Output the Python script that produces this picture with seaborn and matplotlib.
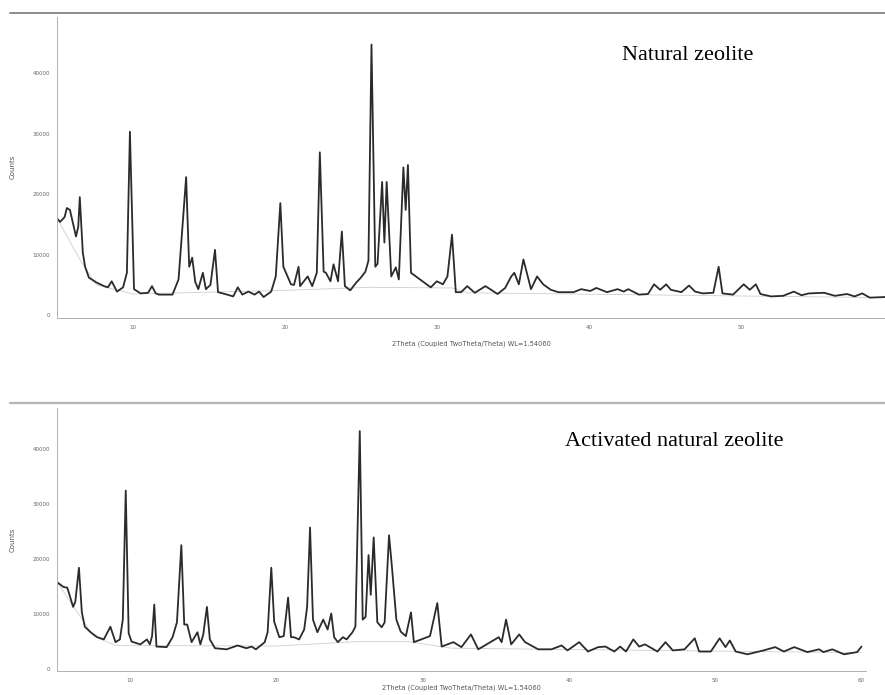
import numpy as np
import pandas as pd
import matplotlib
matplotlib.use("Agg")
import matplotlib.pyplot as plt
from matplotlib.ticker import MultipleLocator, FixedLocator
from matplotlib.lines import Line2D
import seaborn as sns

# natural zeolite pattern (2theta, counts)
nat_2theta = [5.0, 5.2, 5.5, 5.65, 5.85, 6.05, 6.25, 6.4, 6.5, 6.7, 6.85, 7.1, 7.6, 8.1, 8.35, 8.6,
              8.95, 9.35, 9.6, 9.8, 10.07, 10.5, 11.0, 11.25, 11.5, 11.7, 12.6, 13.0, 13.5, 13.7,
              13.9, 14.1, 14.3, 14.6, 14.8, 15.1, 15.4, 15.6, 16.2, 16.6, 16.9, 17.2, 17.6, 18.0,
              18.3, 18.6, 19.1, 19.4, 19.7, 19.9, 20.4, 20.6, 20.9, 21.0, 21.5, 21.8, 22.1, 22.3,
              22.55, 22.7, 23.0, 23.2, 23.5, 23.75, 23.95, 24.3, 24.7, 25.0, 25.3, 25.5, 25.7,
              25.95, 26.1, 26.4, 26.55, 26.7, 27.0, 27.3, 27.5, 27.8, 27.95, 28.1, 28.3, 28.9,
              29.6, 30.0, 30.4, 30.7, 31.0, 31.25, 31.6, 32.0, 32.5, 33.2, 34.0, 34.5, 34.9, 35.1,
              35.4, 35.7, 36.2, 36.6, 37.0, 37.5, 38.0, 39.0, 39.5, 40.1, 40.5, 41.2, 41.9, 42.3,
              42.6, 43.3, 43.9, 44.3, 44.7, 45.1, 45.4, 46.1, 46.6, 47.0, 47.5, 48.2, 48.55, 48.8,
              49.5, 50.2, 50.6, 51.0, 51.3, 52.0, 52.8, 53.5, 54.0, 54.5, 55.5, 56.2, 57.0, 57.5,
              58.0, 58.5, 59.5]
nat_counts = [16000, 15400, 16200, 17700, 17400, 15200, 13000, 14600, 19500, 10300, 8000, 6200,
              5400, 4800, 4600, 5600, 3900, 4600, 7000, 30300, 4300, 3600, 3700, 4800, 3600, 3400,
              3400, 5900, 22800, 8000, 9500, 5500, 4300, 7000, 4300, 5000, 10800, 3800, 3400, 3100,
              4600, 3400, 3900, 3400, 3900, 3000, 3900, 6400, 18500, 8000, 5100, 5000, 8000, 4800,
              6400, 4800, 7000, 26900, 7200, 7000, 5600, 8400, 5600, 13800, 4800, 4100, 5400, 6200,
              7200, 9000, 44700, 8000, 8500, 22000, 12000, 22000, 6400, 7900, 5900, 24400, 17400,
              24800, 7000, 5900, 4600, 5600, 5100, 6400, 13300, 3800, 3800, 4800, 3700, 4800, 3500,
              4500, 6400, 7000, 5100, 9200, 4300, 6400, 5100, 4200, 3800, 3800, 4300, 4000, 4500,
              3800, 4300, 3900, 4300, 3400, 3500, 5100, 4200, 5100, 4200, 3800, 4900, 3900, 3600,
              3700, 8000, 3600, 3400, 5100, 4200, 5100, 3500, 3100, 3200, 3900, 3300, 3600, 3700,
              3200, 3500, 3100, 3600, 2900, 3000]
nat_bg_2theta = [5.0, 6.6, 7.6, 10.0, 20.0, 25.5, 31.0, 32.0, 59.5]
nat_bg_counts = [16000, 8800, 5000, 3500, 4100, 4600, 4500, 3700, 2900]

# activated natural zeolite pattern
act_2theta = [5.0, 5.45, 5.7, 5.9, 6.1, 6.25, 6.5, 6.7, 6.9, 7.3, 7.75, 8.2, 8.65, 9.0, 9.3, 9.5,
              9.7, 9.9, 10.1, 10.7, 11.15, 11.35, 11.5, 11.65, 11.8, 12.5, 12.9, 13.2, 13.5, 13.7,
              13.9, 14.2, 14.6, 14.8, 15.0, 15.25, 15.45, 15.8, 16.6, 17.35, 17.95, 18.3, 18.6,
              19.2, 19.4, 19.65, 19.85, 20.2, 20.5, 20.8, 21.0, 21.2, 21.55, 21.9, 22.1, 22.3,
              22.5, 22.8, 23.2, 23.5, 23.75, 23.95, 24.2, 24.55, 24.8, 25.2, 25.4, 25.7, 25.9,
              26.1, 26.3, 26.45, 26.65, 26.9, 27.2, 27.4, 27.7, 27.9, 28.2, 28.5, 28.85, 29.2,
              29.4, 29.9, 30.5, 31.0, 31.3, 32.1, 32.65, 33.3, 33.8, 34.7, 35.2, 35.4, 35.7, 36.05,
              36.6, 37.0, 37.9, 38.8, 39.5, 39.9, 40.7, 41.3, 42.0, 42.5, 43.1, 43.5, 43.9, 44.4,
              44.8, 45.2, 46.05, 46.6, 47.1, 47.9, 48.6, 48.9, 49.7, 50.3, 50.7, 51.0, 51.4, 52.2,
              53.3, 54.1, 54.7, 55.4, 56.3, 57.1, 57.4, 58.0, 58.8, 59.7, 60.0]
act_counts = [15800, 14900, 14800, 13100, 11300, 12200, 18400, 10300, 7700, 6700, 5800, 5400,
              7700, 4900, 5400, 9000, 32400, 6500, 5000, 4500, 5400, 4500, 6000, 11700, 4100, 4000,
              5800, 8500, 22500, 8100, 8100, 4900, 6700, 4500, 6300, 11300, 5400, 3800, 3600, 4300,
              3800, 4100, 3600, 4900, 6700, 18400, 8600, 5800, 6000, 13000, 5800, 5800, 5400, 7200,
              11300, 25700, 9000, 6700, 9000, 7200, 10100, 5800, 4900, 5800, 5400, 6700, 7700,
              43200, 9000, 9500, 20700, 13500, 23900, 8500, 7600, 8500, 24300, 18500, 9000, 6800,
              6000, 10300, 4900, 5400, 6000, 12000, 4100, 4900, 4000, 6300, 3600, 5000, 5800, 4900,
              9000, 4500, 6300, 4900, 3600, 3600, 4300, 3400, 4900, 3200, 4000, 4100, 3200, 4100,
              3200, 5400, 4100, 4500, 3200, 4900, 3400, 3600, 5600, 3200, 3200, 5600, 4000, 5200,
              3200, 2700, 3400, 4000, 3200, 4000, 3100, 3600, 3100, 3600, 2700, 3100, 4100]
act_bg_2theta = [5.0, 6.6, 7.5, 9.0, 20.0, 25.5, 29.0, 32.0, 60.0]
act_bg_counts = [15800, 9500, 6000, 4300, 4200, 5000, 5000, 3800, 3000]

y_ticks = [0, 10000, 20000, 30000, 40000]
x_ticks = [10, 20, 30, 40, 50, 60]
xlabel = "2Theta (Coupled TwoTheta/Theta) WL=1.54060"

sns.set_style("white")
plt.rcParams["font.family"] = ["DejaVu Sans"]

fig = plt.figure(figsize=(8.85, 6.95), dpi=100)
ax1 = fig.add_axes([0.0644, 0.543, 0.9356, 0.433])
ax2 = fig.add_axes([0.0644, 0.034, 0.914, 0.379])

panels = [
    (ax1, nat_2theta, nat_counts, nat_bg_2theta, nat_bg_counts, (5, 59.5), 49300, "Natural zeolite",
     (622, 55), 8),
    (ax2, act_2theta, act_counts, act_bg_2theta, act_bg_counts, (5, 60.3), 47400,
     "Activated natural zeolite", (565, 442), 1),
]

for ax, xs, ys, bx, by, xlim, ytop, name, pos, xpad in panels:
    bg = pd.DataFrame({"two_theta": bx, "counts": by})
    sns.lineplot(data=bg, x="two_theta", y="counts", ax=ax, color="#cfcfcf", lw=0.6,
                 estimator=None)
    df = pd.DataFrame({"two_theta": xs, "counts": ys})
    sns.lineplot(data=df, x="two_theta", y="counts", ax=ax, color="#2b2b2b", lw=1.3,
                 estimator=None)
    ax.set_xlim(*xlim)
    ax.set_ylim(-400, ytop)
    ax.xaxis.set_major_locator(FixedLocator(x_ticks))
    ax.yaxis.set_major_locator(FixedLocator(y_ticks))
    ax.xaxis.set_minor_locator(MultipleLocator(1))
    ax.yaxis.set_minor_locator(MultipleLocator(1000))
    ax.tick_params(which="both", direction="out", colors="#9a9a9a", labelcolor="#666666",
                   labelsize=4, width=0.6)
    ax.tick_params(which="major", length=3, pad=2)
    ax.tick_params(which="minor", length=1.5)
    for side in ["top", "right"]:
        ax.spines[side].set_visible(False)
    for side in ["left", "bottom"]:
        ax.spines[side].set_color("#b0b0b0")
        ax.spines[side].set_linewidth(0.7)
    ax.set_xlabel(xlabel, fontsize=4.8, color="#555555", labelpad=xpad)
    ax.set_ylabel("Counts", fontsize=5, color="#555555", labelpad=12)
    fig.text(pos[0] / 885, 1 - pos[1] / 695, name, fontsize=16, family="Liberation Serif",
             ha="left", va="center", color="black")

# gray separator lines above each panel
fig.add_artist(Line2D([10 / 885, 1], [1 - 13 / 695] * 2, color="#8c8c8c", lw=1.4))
fig.add_artist(Line2D([10 / 885, 1], [1 - 403 / 695] * 2, color="#b5b5b5", lw=1.6))

fig.savefig("out.png", dpi=100)
